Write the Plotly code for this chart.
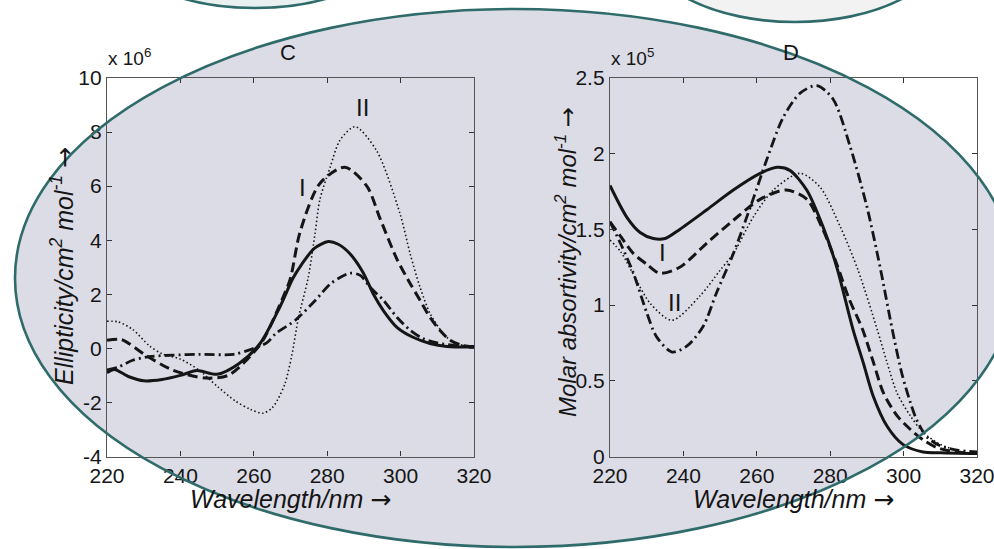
import plotly.graph_objects as go

W, H = 994, 549

# ---------------- Panel C: ellipticity (x 10^6) ----------------
c_solid_x = [220, 222, 226, 230, 235, 240, 244.5, 250, 256, 261.7, 267, 270.7, 273, 276.5, 280.3, 283, 286.2, 289.8, 292.6, 295.3, 299, 303.4, 308, 312.6, 320]
c_solid_y = [-0.9, -0.78, -1.05, -1.2, -1.15, -1.0, -0.82, -0.96, -0.56, 0.18, 1.5, 2.6, 3.1, 3.7, 3.95, 3.85, 3.5, 2.8, 2.0, 1.4, 0.78, 0.41, 0.18, 0.07, 0.05]

c_dash_x = [220, 224, 230.6, 238, 247, 253, 258, 262.5, 268, 270, 272.6, 278, 284.8, 290.8, 294.4, 299, 302.6, 305.3, 308, 310.7, 313.5, 317, 320]
c_dash_y = [0.3, 0.32, -0.26, -0.81, -1.1, -1.0, -0.44, 0.3, 1.9, 2.6, 4.3, 6.1, 6.7, 6.0, 4.8, 3.3, 2.4, 1.78, 1.15, 0.67, 0.3, 0.1, 0.05]

c_dot_x = [220, 223, 227, 231.5, 235, 240, 245, 250, 255, 259, 262.5, 265, 266.5, 268.5, 270.3, 272.2, 274.8, 276.7, 278, 280.8, 283.5, 287.6, 293.5, 299.8, 302.6, 305.3, 308, 311.6, 314.4, 320]
c_dot_y = [1.0, 0.98, 0.7, 0.1, -0.2, -0.4, -0.8, -1.4, -1.95, -2.25, -2.4, -2.2, -1.9, -1.3, -0.3, 1.15, 2.6, 4.26, 5.5, 6.7, 7.7, 8.2, 7.3, 5.0, 3.5, 2.26, 1.3, 0.55, 0.22, 0.05]

c_dashdot_x = [220, 223, 227, 232, 238, 245, 254.5, 260, 263.5, 266, 271.3, 276.8, 281, 286.2, 289, 291.7, 295.3, 299, 302.6, 306, 310, 315, 320]
c_dashdot_y = [-0.8, -0.7, -0.44, -0.3, -0.25, -0.22, -0.22, 0.0, 0.2, 0.55, 1.04, 1.78, 2.4, 2.78, 2.7, 2.26, 1.78, 1.15, 0.67, 0.37, 0.2, 0.1, 0.07]

# ---------------- Panel D: molar absorptivity (x 10^5) ----------------
d_solid_x = [220, 224.6, 228.2, 231.8, 235, 239, 246.4, 253.6, 260.9, 265.5, 269, 273.6, 278, 281.8, 286.2, 289, 291.7, 295.5, 299.8, 305.3, 310, 320]
d_solid_y = [1.79, 1.58, 1.48, 1.44, 1.44, 1.50, 1.63, 1.76, 1.87, 1.91, 1.89, 1.76, 1.52, 1.25, 0.84, 0.62, 0.40, 0.20, 0.08, 0.03, 0.025, 0.02]

d_dash_x = [220, 223, 226.4, 230, 233.6, 239, 246.4, 253.6, 261, 268, 273.6, 278, 281.8, 285, 288.8, 291.8, 294.5, 298.2, 301.8, 305.3, 309, 314, 320]
d_dash_y = [1.55, 1.45, 1.34, 1.27, 1.21, 1.25, 1.41, 1.56, 1.70, 1.76, 1.70, 1.50, 1.27, 1.05, 0.84, 0.62, 0.42, 0.27, 0.18, 0.11, 0.06, 0.03, 0.02]

d_dot_x = [220, 223, 226, 231, 236.9, 244.5, 250, 253.6, 259, 264.5, 271.8, 277.2, 282.7, 287.6, 292.8, 295.5, 298.2, 301.8, 305.3, 310, 316, 320]
d_dot_y = [1.43, 1.35, 1.22, 1.01, 0.90, 1.06, 1.23, 1.34, 1.58, 1.76, 1.87, 1.78, 1.52, 1.23, 0.84, 0.62, 0.42, 0.27, 0.16, 0.08, 0.03, 0.02]

d_dashdot_x = [220, 223, 226.4, 230, 232.7, 236.9, 241, 245.4, 249, 253.6, 259, 262.7, 267.2, 271.8, 276.4, 280.8, 285.4, 290, 293.6, 296.9, 299.5, 301.8, 303.6, 306.3, 310, 315, 320]
d_dashdot_y = [1.55, 1.40, 1.21, 0.95, 0.79, 0.69, 0.73, 0.86, 1.08, 1.34, 1.70, 1.96, 2.24, 2.40, 2.45, 2.36, 2.05, 1.65, 1.25, 0.84, 0.55, 0.36, 0.24, 0.13, 0.07, 0.04, 0.03]

# axis ticks
x_ticks = [220, 240, 260, 280, 300, 320]
c_yticks = [-4, -2, 0, 2, 4, 6, 8, 10]
c_yticktext = ["-4", "-2", "0", "2", "4", "6", "8", "10"]
d_yticks = [0, 0.5, 1, 1.5, 2, 2.5]
d_yticktext = ["0", "0.5", "1", "1.5", "2", "2.5"]

INK = "#151515"
TEAL = "#2f6b6a"
FONT = "Liberation Sans, Arial, sans-serif"
ARROW = "<span style='font-family:DejaVu Sans'>→</span>"

styles = {
    "solid": dict(dash="solid", width=3.0),
    "dash": dict(dash="10px,5px", width=3.0),
    "dot": dict(dash="1.5px,2.5px", width=1.6),
    "dashdot": dict(dash="10px,4px,2px,4px", width=2.8),
}

fig = go.Figure()

panels = [
    ("x", "y", [(c_solid_x, c_solid_y, "solid"), (c_dash_x, c_dash_y, "dash"),
                (c_dot_x, c_dot_y, "dot"), (c_dashdot_x, c_dashdot_y, "dashdot")]),
    ("x2", "y2", [(d_solid_x, d_solid_y, "solid"), (d_dash_x, d_dash_y, "dash"),
                  (d_dot_x, d_dot_y, "dot"), (d_dashdot_x, d_dashdot_y, "dashdot")]),
]
for xa, ya, series in panels:
    for xs, ys, st in series:
        fig.add_trace(go.Scatter(
            x=xs, y=ys, xaxis=xa, yaxis=ya, mode="lines",
            line=dict(color=INK, shape="spline", smoothing=0.8, **styles[st]),
            showlegend=False, hoverinfo="skip"))


def px(p):
    return p / W


def py(p):
    return 1 - p / H


axis_common = dict(
    showline=True, linecolor="#555555", linewidth=1.3, mirror="ticks",
    ticks="inside", ticklen=5, tickwidth=1, tickcolor="#333333",
    showgrid=False, zeroline=False, automargin=False,
    ticklabeloverflow="allow",
    tickfont=dict(family=FONT, size=21, color=INK),
)

fig.update_layout(
    template="none",
    width=W, height=H, autosize=False,
    margin=dict(l=0, r=0, t=0, b=0, pad=0),
    paper_bgcolor="white", plot_bgcolor="rgba(0,0,0,0)",
    xaxis=dict(domain=[px(107), px(474)], range=[220, 320], tickvals=x_ticks,
               anchor="y", **axis_common),
    yaxis=dict(domain=[py(456.5), py(78)], range=[-4, 10], tickvals=c_yticks,
               ticktext=c_yticktext, anchor="x", **axis_common),
    xaxis2=dict(domain=[px(610), px(977)], range=[220, 320], tickvals=x_ticks,
                anchor="y2", **axis_common),
    yaxis2=dict(domain=[py(456.5), py(78)], range=[0, 2.5], tickvals=d_yticks,
                ticktext=d_yticktext, anchor="x2", **axis_common),
)

# backdrop ellipses
shapes = [
    dict(type="circle", xref="paper", yref="paper", layer="below",
         x0=px(15), x1=px(1015), y0=py(547), y1=py(9),
         fillcolor="#dcdce6", line=dict(width=0)),
    dict(type="circle", xref="paper", yref="paper", layer="above",
         x0=px(15), x1=px(1015), y0=py(547), y1=py(9),
         fillcolor="rgba(0,0,0,0)", line=dict(color=TEAL, width=2.6)),
    dict(type="circle", xref="paper", yref="paper", layer="above",
         x0=px(115), x1=px(395), y0=py(8), y1=py(-128),
         fillcolor="#e8f0f0", line=dict(color=TEAL, width=2.6)),
    dict(type="circle", xref="paper", yref="paper", layer="above",
         x0=px(643), x1=px(947), y0=py(22), y1=py(-138),
         fillcolor="#f2f2f2", line=dict(color=TEAL, width=2.6)),
]
fig.update_layout(shapes=shapes)

ann = []
# panel letters
for letter, xp in (("C", 288), ("D", 791)):
    ann.append(dict(text=letter, xref="paper", yref="paper", x=px(xp), y=py(52),
                    xanchor="center", yanchor="middle", showarrow=False,
                    font=dict(family=FONT, size=22, color=INK)))
# exponent multipliers
for txt, xp in (("x 10<sup>6</sup>", 106), ("x 10<sup>5</sup>", 609)):
    ann.append(dict(text=txt, xref="paper", yref="paper", x=px(xp), y=py(71),
                    xanchor="left", yanchor="bottom", showarrow=False,
                    font=dict(family=FONT, size=19, color=INK)))
# x axis titles
for xp in (290.5, 793.5):
    ann.append(dict(text="<i>Wavelength/nm</i> " + ARROW, xref="paper", yref="paper",
                    x=px(xp), y=py(499), xanchor="center", yanchor="middle",
                    showarrow=False, font=dict(family=FONT, size=25, color=INK)))
# y axis titles
ann.append(dict(text="<i>Ellipticity/cm<sup>2</sup> mol<sup>-1</sup></i> " + ARROW,
                xref="paper", yref="paper", x=px(63), y=py(266), textangle=-90,
                xanchor="center", yanchor="middle", showarrow=False,
                font=dict(family=FONT, size=25, color=INK)))
ann.append(dict(text="<i>Molar absortivity/cm<sup>2</sup> mol<sup>-1</sup></i> " + ARROW,
                xref="paper", yref="paper", x=px(566), y=py(262), textangle=-90,
                xanchor="center", yanchor="middle", showarrow=False,
                font=dict(family=FONT, size=24, color=INK)))
# curve labels
for txt, xr, yr, xv, yv in (("II", "x", "y", 289.5, 8.9), ("I", "x", "y", 273.4, 5.96),
                            ("I", "x2", "y2", 234.4, 1.35), ("II", "x2", "y2", 237.7, 1.02)):
    ann.append(dict(text=txt, xref=xr, yref=yr, x=xv, y=yv, showarrow=False,
                    xanchor="center", yanchor="middle",
                    font=dict(family=FONT, size=24, color=INK)))
fig.update_layout(annotations=ann)

fig.write_html("out.html")
